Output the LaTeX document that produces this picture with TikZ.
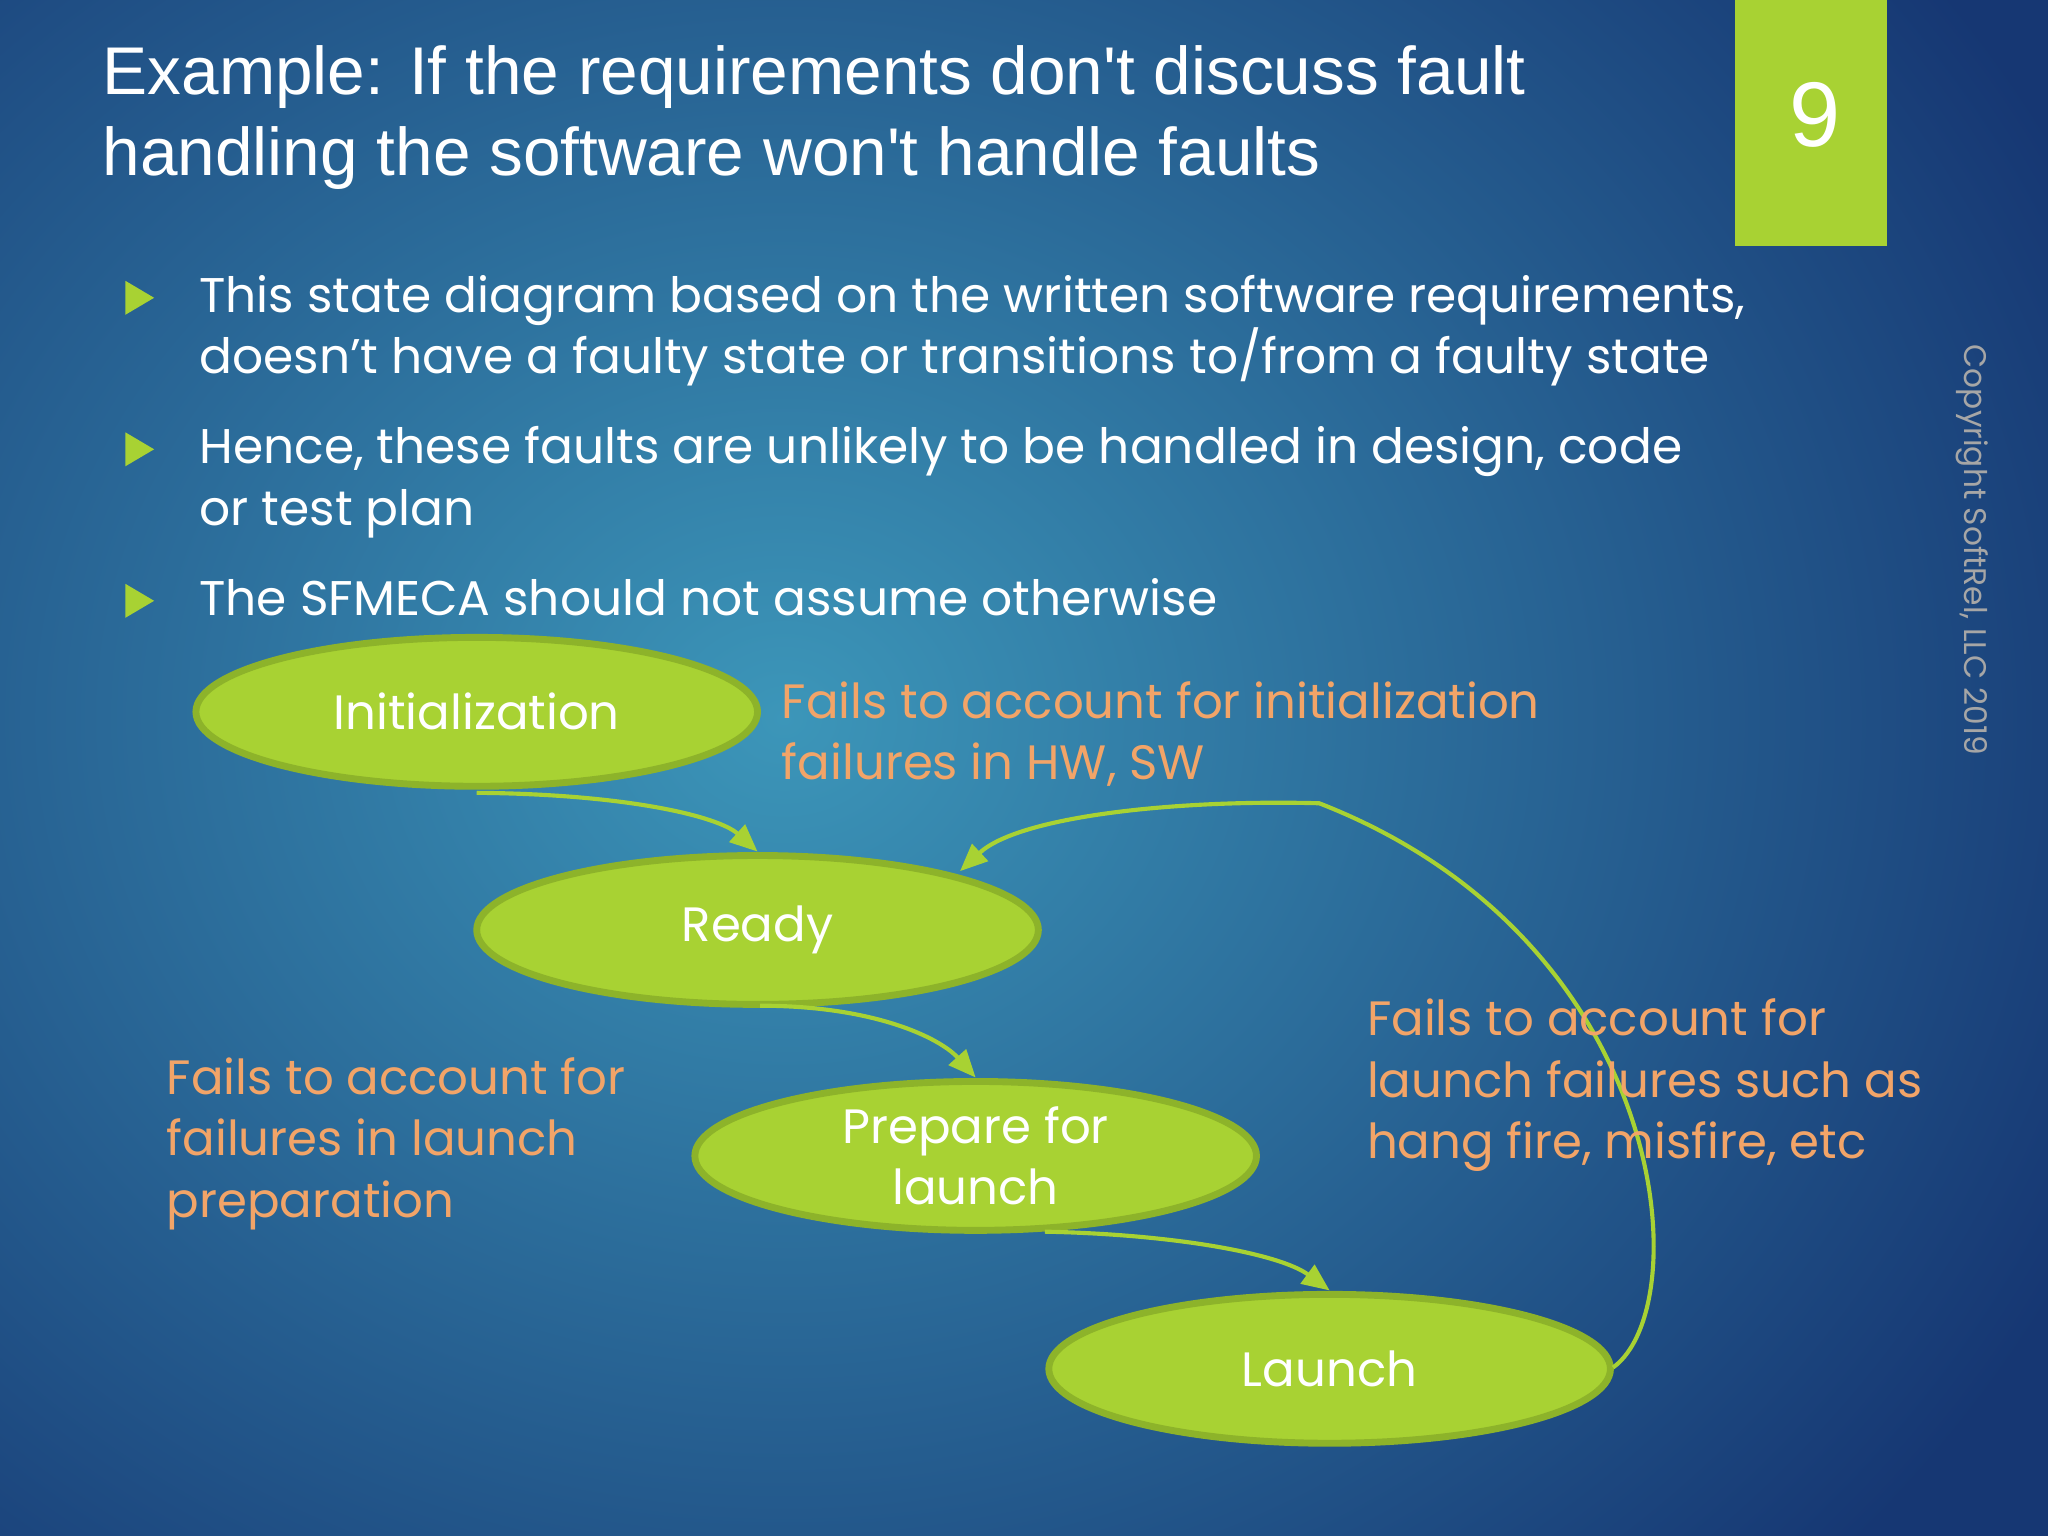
\documentclass[tikz,border=0pt]{standalone}
\usepackage{fontspec}
\setmainfont{Poppins}
\newfontfamily\titlefont{Liberation Sans}
\usetikzlibrary{arrows.meta}
\definecolor{lg}{HTML}{A8D233}
\definecolor{lgd}{HTML}{8DB32A}
\definecolor{orn}{HTML}{F2A468}
\begin{document}
\begin{tikzpicture}[x=0.01cm,y=-0.01cm,
  ell/.style={fill=lg,draw=lgd,line width=1.5pt},
  lbl/.style={text=white,font=\fontsize{10.5}{13.4}\selectfont,align=center},
  note/.style={text=orn,font=\fontsize{10.5}{13.4}\selectfont,align=left,anchor=north west,inner sep=0pt},
  bul/.style={text=white,font=\fontsize{10.6}{13.4}\selectfont,align=left,anchor=north west,inner sep=0pt},
  con/.style={draw=lg,line width=0.9pt,-{Triangle[width=5pt,length=6pt]}}]
\useasboundingbox (0,0) rectangle (1568,1176);
\shade[inner color={rgb,255:red,60;green,150;blue,185},outer color={rgb,255:red,22;green,55;blue,115}] (-500,-400) rectangle (1700,1500);
\fill[lg] (1328,0) rectangle (1445,188);
\node[text=white,font=\titlefont\fontsize{20}{20}\selectfont] (num) at (1390,88) {9};
\node[text=white,font=\titlefont\fontsize{14.7}{17.6}\selectfont,align=left,anchor=north west,inner sep=0pt] (title) at (78,34) {Example: If the requirements don't discuss fault\\handling the software won't handle faults};
\node[text=gray!70,font=\fontsize{6.8}{8}\selectfont,rotate=-90] (copy) at (1510,421) {Copyright SoftRel, LLC 2019};
\foreach \y in {228,344,460}{\fill[lg] (96,{\y-13}) -- (118,\y) -- (96,{\y+13}) -- cycle;}
\node[bul] (t1) at (152,210) {This state diagram based on the written software requirements,\\doesn’t have a faulty state or transitions to/from a faulty state};
\node[bul] (t2) at (152,326) {Hence, these faults are unlikely to be handled in design, code\\or test plan};
\node[bul] (t3) at (152,442) {The SFMECA should not assume otherwise};
\foreach \n/\x/\y in {ini/365/545,rdy/580/712,pre/747/885,lau/1018/1048}{
  \fill[ell] (\x,\y) ellipse [x radius=215, y radius=57];
  \coordinate (\n) at (\x,\y);}
\node[lbl] (l1) at (ini) {Initialization};
\node[lbl] (l2) at (rdy) {Ready};
\node[lbl] (l3) at (pre) {Prepare for\\launch};
\node[lbl] (l4) at (lau) {Launch};
\coordinate (a1) at (365,607); \coordinate (a2) at (580,652);
\coordinate (b1) at (582,770); \coordinate (b2) at (747,825);
\coordinate (c1) at (800,943); \coordinate (c2) at (1018,988);
\coordinate (d1) at (1235,1047); \coordinate (d2) at (735,667);
\draw[con] (a1) .. controls (480,608) and (550,625) .. (a2);
\draw[con] (b1) .. controls (670,770) and (720,795) .. (b2);
\draw[con] (c1) .. controls (900,945) and (980,960) .. (c2);
\draw[con] (d1) .. controls (1300,1000) and (1280,720) .. (1010,615) .. controls (900,612) and (780,625) .. (d2);
\node[note] (n1) at (598,521) {Fails to account for initialization\\failures in HW, SW};
\node[note] (n2) at (127,809) {Fails to account for\\failures in launch\\preparation};
\node[note] (n3) at (1046,764) {Fails to account for\\launch failures such as\\hang fire, misfire, etc};
\end{tikzpicture}
\end{document}
